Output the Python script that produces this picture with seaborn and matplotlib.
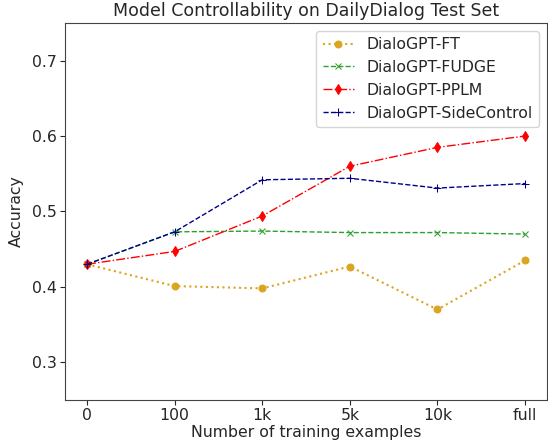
import matplotlib
matplotlib.use("Agg")
import matplotlib.pyplot as plt
import seaborn as sns

sns.set_style("ticks")
plt.rcParams['font.family'] = ['DejaVu Sans']

# training set sizes (categorical x axis)
sizes = ["0", "100", "1k", "5k", "10k", "full"]

acc_ft = [0.430, 0.401, 0.398, 0.427, 0.370, 0.435]
acc_fudge = [0.430, 0.473, 0.474, 0.472, 0.472, 0.470]
acc_pplm = [0.430, 0.447, 0.494, 0.560, 0.585, 0.600]
acc_side = [0.430, 0.473, 0.542, 0.544, 0.531, 0.537]

fig, ax = plt.subplots(figsize=(5.48, 4.41), dpi=100)

series = [
    ("DialoGPT-FT", acc_ft, "goldenrod", ":", "o", 5, 1.5),
    ("DialoGPT-FUDGE", acc_fudge, "tab:green", "--", "x", 5, 1),
    ("DialoGPT-PPLM", acc_pplm, "red", "-.", "d", 5, 1),
    ("DialoGPT-SideControl", acc_side, "darkblue", "--", "+", 6, 1),
]
for name, vals, col, ls, mk, ms, lw in series:
    sns.lineplot(x=sizes, y=vals, ax=ax, color=col, linestyle=ls, marker=mk,
                 markersize=ms, linewidth=lw, label=name, sort=False,
                 markeredgecolor=col)

ax.set_xlim(-0.25, 5.25)
ax.set_ylim(0.25, 0.75)
ax.set_yticks([0.3, 0.4, 0.5, 0.6, 0.7])
ax.set_title("Model Controllability on DailyDialog Test Set", fontsize=12.5, pad=5)
ax.set_xlabel("Number of training examples", fontsize=11.3, labelpad=1)
ax.set_ylabel("Accuracy", fontsize=11.3, labelpad=6)
ax.tick_params(labelsize=11.3, length=3.5, width=0.8, pad=2.5)
for sp in ax.spines.values():
    sp.set_linewidth(0.8)
    sp.set_color("#444444")
ax.legend(loc="upper right", fontsize=11.3)

fig.subplots_adjust(left=0.119, right=0.998, top=0.948, bottom=0.093)
fig.savefig("out.png")
